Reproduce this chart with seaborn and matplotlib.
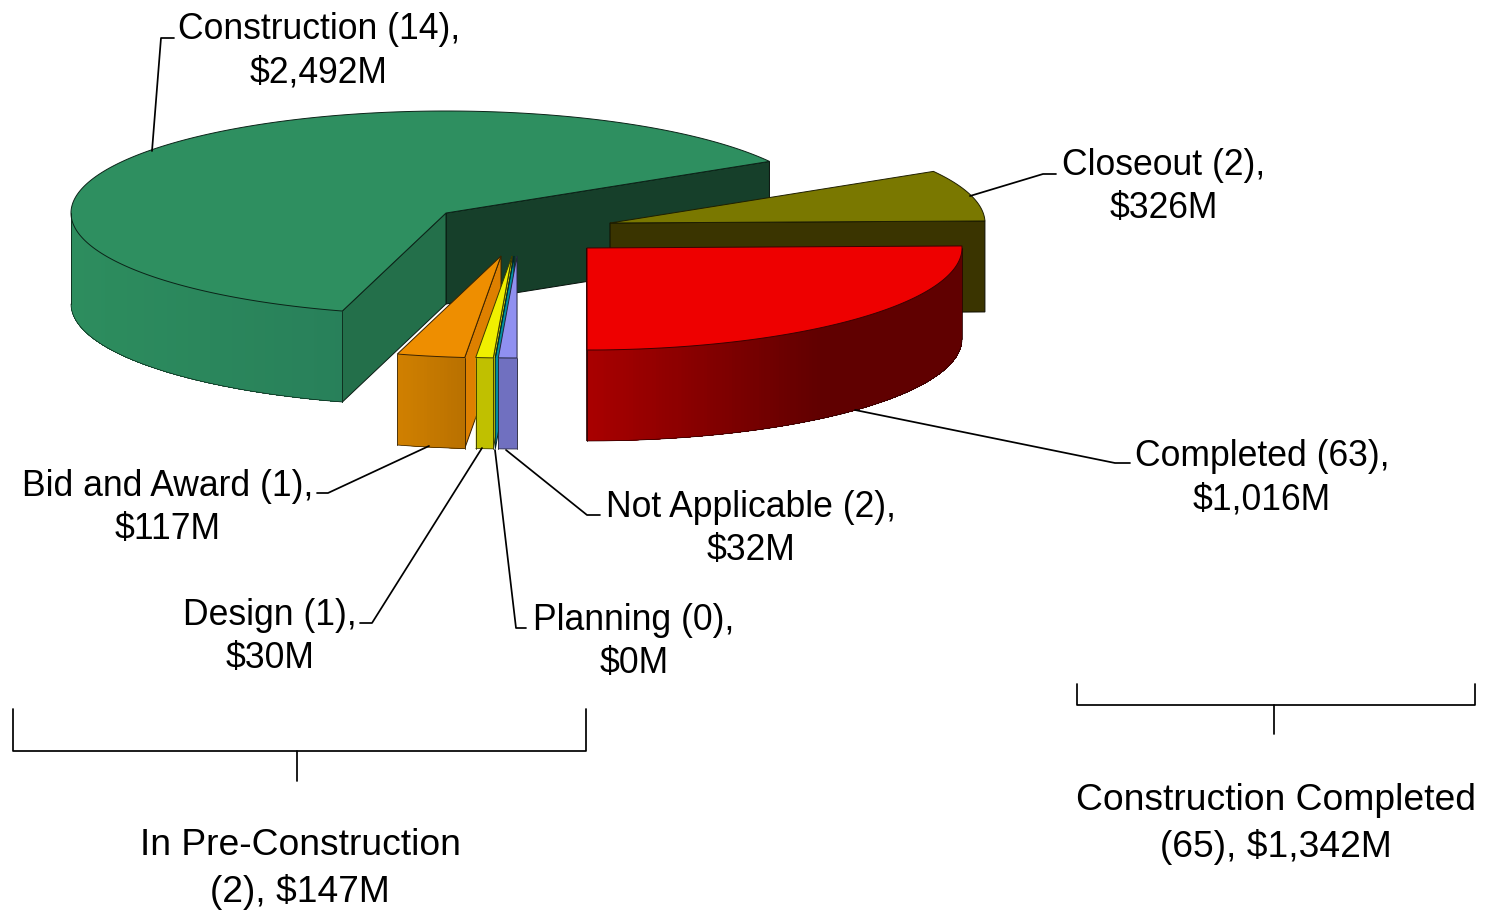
import numpy as np
import seaborn as sns
import matplotlib.pyplot as plt
from matplotlib.patches import Polygon

# chart values
stages = ['Construction', 'Bid and Award', 'Design', 'Planning', 'Not Applicable', 'Completed', 'Closeout']
counts = [14, 1, 1, 0, 2, 63, 2]
dollars = [2492, 117, 30, 0, 32, 1016, 326]
group_names = ['In Pre-Construction', 'Construction Completed']
group_counts = [2, 65]
group_dollars = [147, 1342]

# styling for each slice, in the same order as stages
top_colors = ['#2e8f60', '#ee8e00', '#f0f000', '#00a0a8', '#9090f0', '#ee0000', '#7a7800']
wall_left = ['#2d8d5e', '#d08000', '#c0c000', '#0090a0', '#7070c0', '#a80000', '#3a3400']
wall_right = ['#28805a', '#b87000', '#c0c000', '#0090a0', '#7070c0', '#600000', '#3a3400']
wall_stop = [1, 1, 1, 1, 1, 0.62, 1]
start_face = ['#163f2a', '#de8000', '#d0d000', '#0090a0', '#8080e0', '#aa0000', '#3a3400']
end_face = ['#236f4a', '#de8000', '#d0d000', '#0090a0', '#8080e0', '#aa0000', '#3a3400']
centers = [(446, 213), (501, 256), (512, 256), (514, 256), (517, 256), (587, 248), (610, 223)]
draw_order = [0, 6, 5, 1, 2, 3, 4]

RX, RY, DEPTH = 375, 102, 91
START_ANGLE = 30.4

label_pos = [(319, 51), (168, 508), (270, 637), (634, 642), (751, 529), (1262, 478), (1164, 187)]
leaders = [
    [(152, 151), (161, 38), (174, 38)],
    [(429, 446), (328, 493), (317, 493)],
    [(482, 448), (372, 623), (360, 623)],
    [(495, 450), (516, 628), (526, 628)],
    [(506, 450), (587, 515), (600, 515)],
    [(855, 410), (1115, 463), (1130, 463)],
    [(970, 196), (1043, 174), (1056, 174)],
]
brackets = [
    [(13, 709), (13, 751), (586, 751), (586, 709)],
    [(297, 751), (297, 781)],
    [(1077, 684), (1077, 705), (1475, 705), (1475, 684)],
    [(1274, 705), (1274, 734)],
]
group_pos = [(300, 869), (1276, 824)]


def rim(cx, cy, t):
    t = np.radians(t)
    return cx + RX * np.cos(t), cy - RY * np.sin(t)


def dark(c):
    return sns.blend_palette([c, '#000000'], 5)[3]


def draw_face(ax, cx, cy, t, color):
    x, y = rim(cx, cy, t)
    pts = [(cx, cy), (x, y), (x, y + DEPTH), (cx, cy + DEPTH)]
    ax.add_patch(Polygon(pts, fc=color, ec=dark(color), lw=0.7))


def draw_wall(ax, cx, cy, t1, t2, left, right, stop):
    lo, hi = max(t1, 180), min(t2, 360)
    if hi <= lo:
        return
    n = max(int(hi - lo) * 2, 2)
    ts = np.linspace(lo, hi, n + 1)
    x, y = rim(cx, cy, ts)
    frac = (x - x[0]) / (x[-1] - x[0])
    cols = sns.blend_palette([left, right], 64)
    # each strip runs on to the end of the wall so no seams show between strips
    for i in range(n):
        c = cols[int(min(frac[i] / stop, 1) * 63)]
        pts = list(zip(x[i:], y[i:])) + list(zip(x[i:][::-1], y[i:][::-1] + DEPTH))
        ax.add_patch(Polygon(pts, fc=c, ec='none', lw=0))
    edge = dark(left)
    ax.plot(x, y + DEPTH, color=edge, lw=0.5)
    ax.plot([x[0], x[0]], [y[0], y[0] + DEPTH], color=edge, lw=0.6)
    ax.plot([x[-1], x[-1]], [y[-1], y[-1] + DEPTH], color=edge, lw=0.6)


def draw_slice(ax, i, t1, t2):
    cx, cy = centers[i]
    if np.cos(np.radians(t1)) > 0:
        draw_face(ax, cx, cy, t1, start_face[i])
    if np.cos(np.radians(t2)) < -1e-6:
        draw_face(ax, cx, cy, t2, end_face[i])
    draw_wall(ax, cx, cy, t1, t2, wall_left[i], wall_right[i], wall_stop[i])
    ts = np.linspace(t1, t2, max(int(t2 - t1) * 2, 2))
    x, y = rim(cx, cy, ts)
    pts = [(cx, cy)] + list(zip(x, y))
    ax.add_patch(Polygon(pts, fc=top_colors[i], ec=dark(top_colors[i]), lw=0.7))


def main():
    sns.set_theme(style='white')
    plt.rcParams['font.family'] = ['Liberation Sans', 'DejaVu Sans']

    fig = plt.figure(figsize=(14.95, 9.11), dpi=100)
    ax = fig.add_axes([0, 0, 1, 1])

    total = sum(dollars)
    angles = START_ANGLE + np.cumsum([0] + dollars) / total * 360
    for i in draw_order:
        draw_slice(ax, i, angles[i], angles[i + 1])

    for line in leaders + brackets:
        xs, ys = zip(*line)
        sns.lineplot(x=list(xs), y=list(ys), sort=False, estimator=None,
                     color='black', lw=1.25, ax=ax, legend=False)

    for i, name in enumerate(stages):
        text = '%s (%d),\n$%s' % (name, counts[i], format(dollars[i], ',') + 'M')
        ax.text(label_pos[i][0], label_pos[i][1], text.replace('$', r'\$'), ha='center', va='center',
                ma='center', fontsize=25.6, color='black', linespacing=1.33)

    for i, name in enumerate(group_names):
        text = '%s\n(%d), $%s' % (name, group_counts[i], format(group_dollars[i], ',') + 'M')
        ax.text(group_pos[i][0], group_pos[i][1], text.replace('$', r'\$'), ha='center', va='center',
                ma='center', fontsize=26.8, color='black', linespacing=1.39)

    ax.set_xlim(0, 1495)
    ax.set_ylim(911, 0)
    ax.set_axis_off()
    fig.savefig('out.png', dpi=100, facecolor='white')


if __name__ == '__main__':
    main()
